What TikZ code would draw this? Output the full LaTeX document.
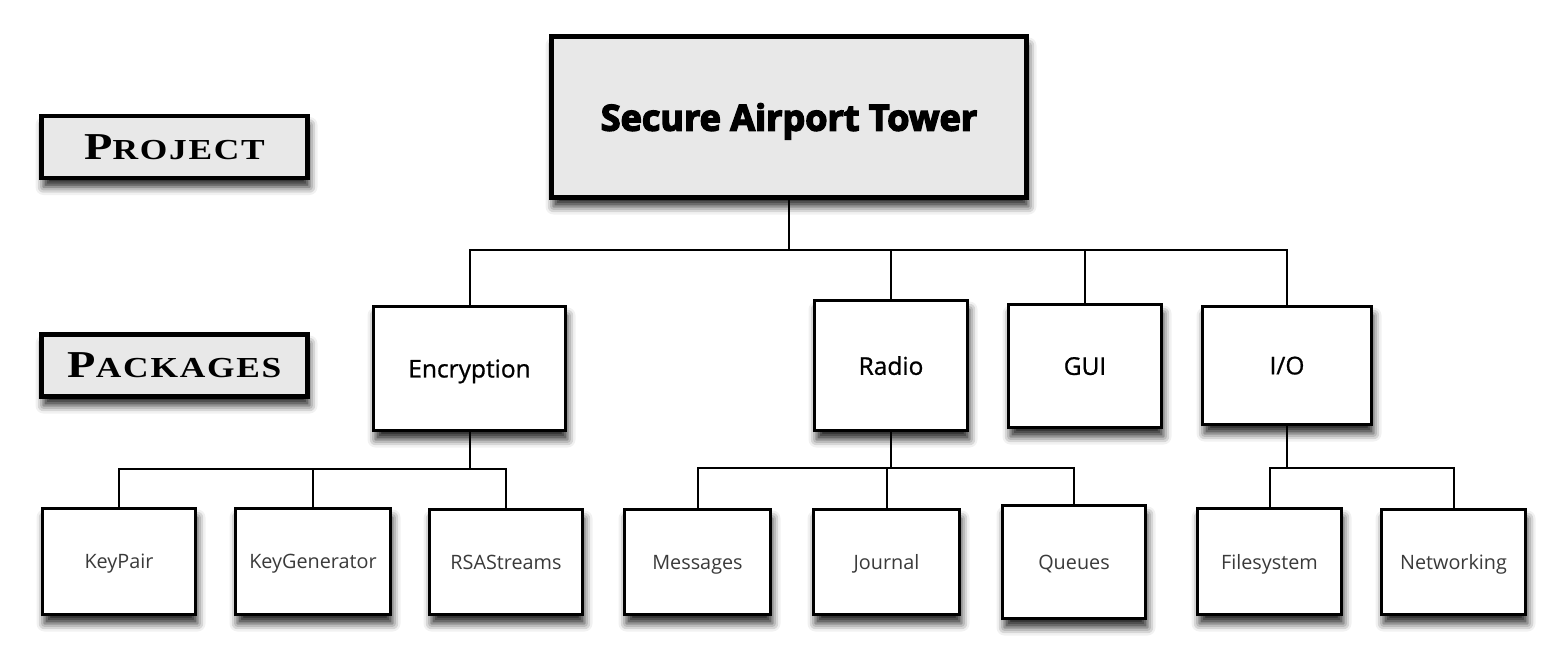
\documentclass[tikz,border=0pt]{standalone}
\usepackage{fontspec}
\setmainfont{Open Sans}
\newfontfamily\titlefont[FakeBold=4]{Open Sans Bold}
\newfontfamily\pkgfont[FakeBold=0.9]{Open Sans}
\newfontfamily\leaffont{Open Sans}
\newfontfamily\capfont[LetterSpace=6, FakeStretch=1.22]{Liberation Serif Bold}
\usetikzlibrary{shadows.blur}
\definecolor{boxgray}{HTML}{E8E8E8}
\definecolor{leaftext}{HTML}{3A3A3A}
\newcommand{\capword}[2]{{\capfont\fontsize{38}{38}\selectfont #1}{\capfont\fontsize{29}{29}\selectfont #2}}
\tikzset{
  shad/.style={blur shadow={shadow xshift=2pt, shadow yshift=-9pt, shadow blur radius=8pt, shadow opacity=85}},
  titlebox/.style={draw=black, line width=5pt, fill=boxgray, shad, inner sep=0pt, text depth=0pt,
    font=\titlefont\fontsize{36}{42}\selectfont},
  labelbox/.style={draw=black, line width=4.5pt, fill=boxgray, shad, inner sep=0pt, text depth=0pt,
    minimum width=266pt, minimum height=62pt},
  pkgbox/.style={draw=black, line width=2.6pt, fill=white, shad, inner sep=0pt, text depth=0pt,
    font=\pkgfont\fontsize{24.5}{28}\selectfont},
  leafbox/.style={draw=black, line width=2.6pt, fill=white, shad, inner sep=0pt, text depth=0pt,
    font=\leaffont\fontsize{19.8}{23}\selectfont, text=leaftext},
  conn/.style={draw=black, line width=2pt}
}
\begin{document}
\begin{tikzpicture}[x=1pt, y=-1pt]
\useasboundingbox (0,0) rectangle (1568,668);
% labels
\node[labelbox] (proj) at (174.5,147) {\capword{P}{ROJECT}};
\node[labelbox] (pack) at (174.5,365.5) {\capword{P}{ACKAGES}};
% top
\node[titlebox, minimum width=475pt, minimum height=161pt] (top) at (789,117) {Secure Airport Tower};
% packages
\node[pkgbox, minimum width=192pt, minimum height=124pt] (enc) at (469.5,368.5) {Encryption};
\node[pkgbox, minimum width=153pt, minimum height=130pt] (radio) at (891,365.5) {Radio};
\node[pkgbox, minimum width=153pt, minimum height=123pt] (gui) at (1085,366) {GUI};
\node[pkgbox, minimum width=169pt, minimum height=118pt] (io) at (1287,365.5) {I/O};
% leaves
\node[leafbox, minimum width=153pt, minimum height=106pt] (kp) at (119,561.5) {KeyPair};
\node[leafbox, minimum width=155pt, minimum height=106pt] (kg) at (313,561.5) {KeyGenerator};
\node[leafbox, minimum width=153pt, minimum height=105pt] (rsa) at (506,562) {RSAStreams};
\node[leafbox, minimum width=146pt, minimum height=105pt] (msg) at (697.5,562) {Messages};
\node[leafbox, minimum width=146pt, minimum height=105pt] (jour) at (886.5,562) {Journal};
\node[leafbox, minimum width=143pt, minimum height=113pt] (que) at (1074,562) {Queues};
\node[leafbox, minimum width=144pt, minimum height=106pt] (fs) at (1269.5,561.5) {Filesystem};
\node[leafbox, minimum width=144pt, minimum height=105pt] (net) at (1453.5,562) {Networking};
% bus coordinates
\coordinate (b1) at (top.south |- 0,250);
\coordinate (b2) at (enc.south |- 0,469);
\coordinate (b3) at (radio.south |- 0,468);
\coordinate (b4) at (io.south |- 0,468);
% connectors
\draw[conn] (top.south) -- (b1);
\draw[conn] (b1) -| (enc.north);
\draw[conn] (b1) -| (radio.north);
\draw[conn] (b1) -| (gui.north);
\draw[conn] (b1) -| (io.north);
\draw[conn] (enc.south) -- (b2);
\draw[conn] (b2) -| (kp.north);
\draw[conn] (b2) -| (kg.north);
\draw[conn] (b2) -| (rsa.north);
\draw[conn] (radio.south) -- (b3);
\draw[conn] (b3) -| (msg.north);
\draw[conn] (b3) -| (jour.north);
\draw[conn] (b3) -| (que.north);
\draw[conn] (io.south) -- (b4);
\draw[conn] (b4) -| (fs.north);
\draw[conn] (b4) -| (net.north);
\end{tikzpicture}
\end{document}
